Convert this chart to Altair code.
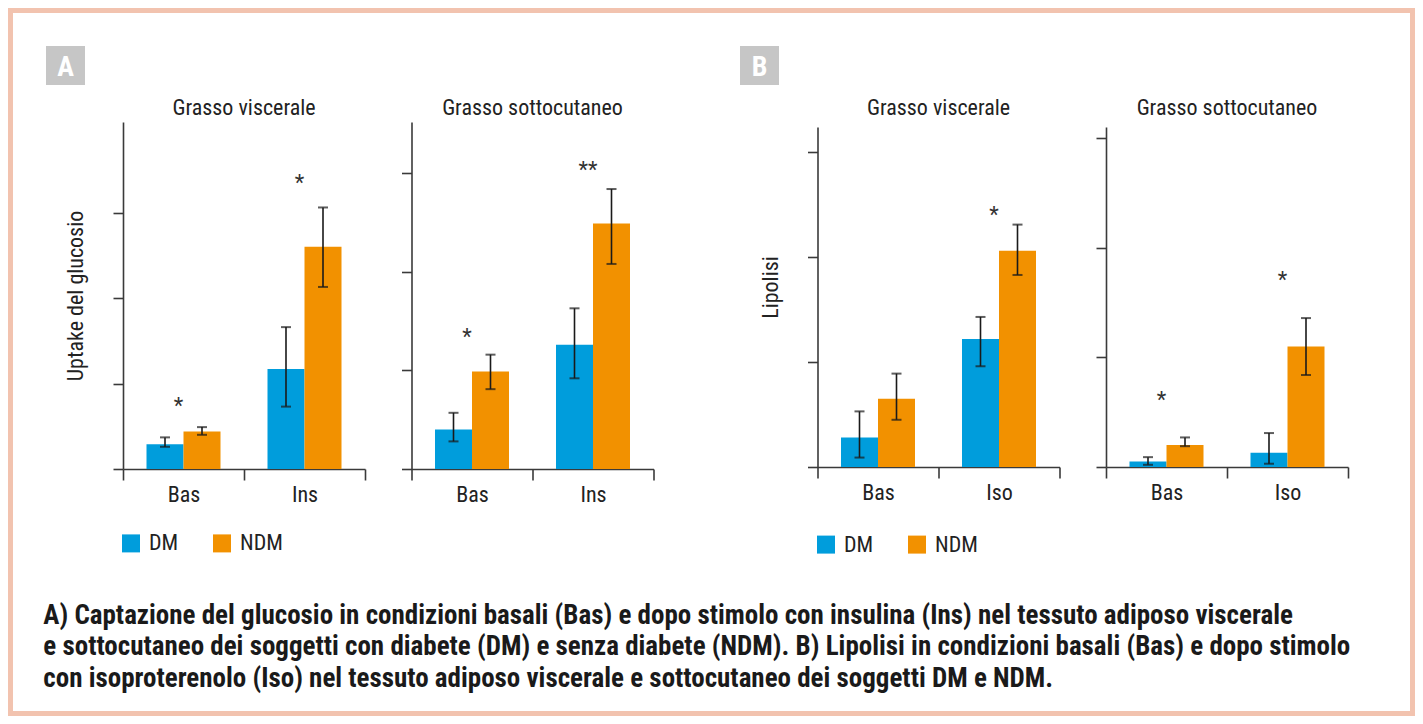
import altair as alt
import pandas as pd

FONT = "Liberation Sans Narrow, Roboto Condensed, DejaVu Sans Condensed, sans-serif"
BLUE = "#009DDC"
ORANGE = "#F29100"
FRAME = "#F2C3AF"
GREYBOX = "#C6C6C6"
INK = "#222222"
AXIS = "#3a3a3a"

groups = ["DM", "NDM"]

# ---- Panel A: Grasso viscerale (glucose uptake)
a1_cats = ["Bas", "Ins"]
a1_dm = [0.29, 1.17]
a1_dm_lo = [0.26, 0.73]
a1_dm_hi = [0.37, 1.66]
a1_ndm = [0.44, 2.60]
a1_ndm_lo = [0.40, 2.13]
a1_ndm_hi = [0.49, 3.06]
a1_star_cats = ["Bas", "Ins"]
a1_star_y = [0.80, 3.41]
a1_star_txt = ["*", "*"]
a1_ymax = 4.06

# ---- Panel A: Grasso sottocutaneo
a2_cats = ["Bas", "Ins"]
a2_dm = [0.40, 1.26]
a2_dm_lo = [0.28, 0.92]
a2_dm_hi = [0.57, 1.63]
a2_ndm = [0.99, 2.49]
a2_ndm_lo = [0.81, 2.08]
a2_ndm_hi = [1.16, 2.84]
a2_star_cats = ["Bas", "Ins"]
a2_star_y = [1.39, 3.08]
a2_star_txt = ["*", "**"]
a2_ymax = 3.52

# ---- Panel B: Grasso viscerale (lipolysis)
b1_cats = ["Bas", "Iso"]
b1_dm = [0.28, 1.22]
b1_dm_lo = [0.09, 0.96]
b1_dm_hi = [0.53, 1.43]
b1_ndm = [0.65, 2.06]
b1_ndm_lo = [0.45, 1.83]
b1_ndm_hi = [0.89, 2.31]
b1_star_cats = ["Iso"]
b1_star_y = [2.45]
b1_star_txt = ["*"]
b1_ymax = 3.24

# ---- Panel B: Grasso sottocutaneo
b2_cats = ["Bas", "Iso"]
b2_dm = [0.05, 0.13]
b2_dm_lo = [0.02, 0.03]
b2_dm_hi = [0.09, 0.31]
b2_ndm = [0.20, 1.10]
b2_ndm_lo = [0.19, 0.84]
b2_ndm_hi = [0.27, 1.36]
b2_star_cats = ["Bas", "Iso"]
b2_star_y = [0.66, 1.75]
b2_star_txt = ["*", "*"]
b2_ymax = 3.105

y_ticks = [0, 1, 2, 3]

caption_lines = [
    "A) Captazione del glucosio in condizioni basali (Bas) e dopo stimolo con insulina (Ins) nel tessuto adiposo viscerale",
    "e sottocutaneo dei soggetti con diabete (DM) e senza diabete (NDM). B) Lipolisi in condizioni basali (Bas) e dopo stimolo",
    "con isoproterenolo (Iso) nel tessuto adiposo viscerale e sottocutaneo dei soggetti DM e NDM.",
]

PW = 242
one = pd.DataFrame({"k": [0]})


def panel(cats, dm, dm_lo, dm_hi, ndm, ndm_lo, ndm_hi, s_cats, s_y, s_txt, ymax,
          height, title, ytitle=None, ytitle_y=None, legend=None, yrange=None, extra=None):
    df = pd.DataFrame({
        "cat": cats * 2,
        "grp": ["DM"] * len(cats) + ["NDM"] * len(cats),
        "mean": dm + ndm,
        "lo": dm_lo + ndm_lo,
        "hi": dm_hi + ndm_hi,
    })
    sdf = pd.DataFrame({"cat": s_cats, "y": s_y, "txt": s_txt})

    xaxis = alt.Axis(title=None, tickBand="extent", tickSize=11, labelAngle=0,
                     labelFontSize=22, labelFont=FONT, labelColor=INK,
                     labelBaseline="alphabetic", labelPadding=21.5,
                     domainColor=AXIS, tickColor=AXIS, domainWidth=1.6, tickWidth=1.6,
                     grid=False)
    xscale = alt.Scale(domain=cats, paddingInner=0, paddingOuter=0)
    xoff = alt.XOffset("grp:N", sort=groups,
                       scale=alt.Scale(domain=groups, paddingOuter=0.635, paddingInner=0))

    yaxis_kw = dict(values=y_ticks, labels=False, tickSize=10, domainColor=AXIS,
                    tickColor=AXIS, domainWidth=1.6, tickWidth=1.6, grid=False)
    if ytitle:
        yaxis_kw.update(title=ytitle, titleFontSize=22, titleFont=FONT, titleFontWeight="normal",
                        titleColor=INK, titleBaseline="alphabetic", titleAlign="center",
                        titleAngle=270, titleX=-40.5, titleY=ytitle_y)
    else:
        yaxis_kw.update(title=None)
    yaxis = alt.Axis(**yaxis_kw)
    if yrange:
        yscale = alt.Scale(domain=[0, ymax], nice=False, zero=True, range=yrange)
    else:
        yscale = alt.Scale(domain=[0, ymax], nice=False, zero=True)

    def X():
        return alt.X("cat:N", sort=cats, scale=xscale, axis=xaxis)

    def Y(f):
        return alt.Y(f, scale=yscale, axis=yaxis)

    if legend is None:
        legend_obj = None
    else:
        legend_obj = alt.Legend(orient="none", legendX=legend[0], legendY=legend[1],
                                direction="horizontal", title=None, symbolType="square",
                                symbolSize=324, symbolStrokeWidth=0, labelFontSize=22,
                                labelFont=FONT, labelColor=INK, labelOffset=7,
                                columnPadding=32, padding=0)

    bars = alt.Chart(df).mark_bar().encode(
        x=X(), xOffset=xoff, y=Y("mean:Q"),
        color=alt.Color("grp:N", scale=alt.Scale(domain=groups, range=[BLUE, ORANGE]),
                        legend=legend_obj),
    )
    rules = alt.Chart(df).mark_rule(color="#1a1a1a", strokeWidth=1.6).encode(
        x=X(), xOffset=xoff, y=Y("lo:Q"), y2="hi:Q"
    )
    caps = alt.Chart(df).transform_fold(["lo", "hi"], as_=["which", "v"]).mark_tick(
        color="#1a1a1a", thickness=2, size=10
    ).encode(x=X(), xOffset=xoff, y=Y("v:Q"))
    stars = alt.Chart(sdf).mark_text(font=FONT, fontSize=22, color="#333333", dx=-5, dy=12,
                                     baseline="alphabetic").encode(
        x=X(), y=Y("y:Q"), text="txt:N"
    )
    ttl = alt.Chart(one).mark_text(text=title, font=FONT, fontSize=22, color=INK,
                                   align="center", baseline="alphabetic").encode(
        x=alt.value(PW / 2), y=alt.value(-7.5)
    )
    layers = (extra or []) + [ttl, bars, rules, caps, stars]
    return alt.layer(*layers).properties(width=PW, height=height)


frame = alt.Chart(one).mark_rect(fillOpacity=0, stroke=FRAME, strokeWidth=5).encode(
    x=alt.value(-112.5), x2=alt.value(1289.5), y=alt.value(-111.5), y2=alt.value(591.5)
)
boxA = alt.Chart(one).mark_rect(color=GREYBOX).encode(
    x=alt.value(-77), x2=alt.value(-38), y=alt.value(-76), y2=alt.value(-37)
)
letterA = alt.Chart(one).mark_text(text="A", font=FONT, fontSize=28, fontWeight="bold",
                                   color="white", align="center", baseline="alphabetic").encode(
    x=alt.value(-57.5), y=alt.value(-46)
)
caption_y = [501.5, 533, 564.5]
caption_layers = []
for line, yy in zip(caption_lines, caption_y):
    caption_layers.append(
        alt.Chart(one).mark_text(text=line, font=FONT, fontSize=27, fontWeight="bold",
                                 color="#1a1a1a", align="left", baseline="alphabetic").encode(
            x=alt.value(-79.7), y=alt.value(yy)
        )
    )

boxB = alt.Chart(one).mark_rect(color=GREYBOX).encode(
    x=alt.value(-77.5), x2=alt.value(-38.5), y=alt.value(-76), y2=alt.value(-37)
)
letterB = alt.Chart(one).mark_text(text="B", font=FONT, fontSize=28, fontWeight="bold",
                                   color="white", align="center", baseline="alphabetic").encode(
    x=alt.value(-58), y=alt.value(-46)
)

p1 = panel(a1_cats, a1_dm, a1_dm_lo, a1_dm_hi, a1_ndm, a1_ndm_lo, a1_ndm_hi,
           a1_star_cats, a1_star_y, a1_star_txt, a1_ymax, 347, "Grasso viscerale",
           ytitle="Uptake del glucosio", ytitle_y=173.5, legend=(-3, 410.4),
           extra=[frame, boxA, letterA] + caption_layers)
p2 = panel(a2_cats, a2_dm, a2_dm_lo, a2_dm_hi, a2_ndm, a2_ndm_lo, a2_ndm_hi,
           a2_star_cats, a2_star_y, a2_star_txt, a2_ymax, 347, "Grasso sottocutaneo")
p3 = panel(b1_cats, b1_dm, b1_dm_lo, b1_dm_hi, b1_ndm, b1_ndm_lo, b1_ndm_hi,
           b1_star_cats, b1_star_y, b1_star_txt, b1_ymax, 345, "Grasso viscerale",
           ytitle="Lipolisi", ytitle_y=165, legend=(-2.5, 411.6), yrange=[345, 5],
           extra=[boxB, letterB])
p4 = panel(b2_cats, b2_dm, b2_dm_lo, b2_dm_hi, b2_ndm, b2_ndm_lo, b2_ndm_hi,
           b2_star_cats, b2_star_y, b2_star_txt, b2_ymax, 345, "Grasso sottocutaneo",
           yrange=[345, 5])

spacer = alt.Chart(one).mark_point(opacity=0).properties(width=71, height=347)

chart = alt.hconcat(p1, p2, spacer, p3, p4, spacing=46.5, bounds="flush", padding=0).resolve_scale(
    color="independent", x="independent", y="independent"
).configure_view(strokeWidth=0)

chart.save("out.html", embed_options={"renderer": "svg", "actions": False})
